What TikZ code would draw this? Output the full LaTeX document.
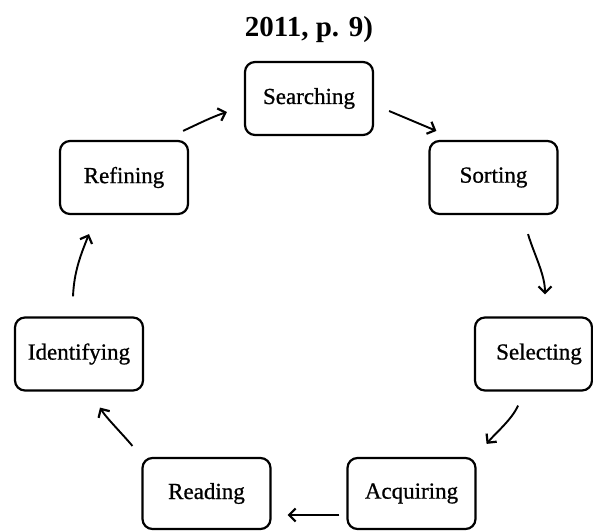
\documentclass[tikz,border=0pt]{standalone}
\usepackage{fontspec}
\setmainfont{Liberation Serif}
\newfontfamily\stagefont{Liberation Serif}[FakeBold=0.8]
\usetikzlibrary{arrows.meta}
\tikzset{
  stage/.style={draw, line width=2.2pt, rounded corners=10pt, fill=white,
    minimum width=128pt, minimum height=73pt, inner sep=0pt,
    font=\stagefont\fontsize{23}{26}\selectfont},
  flow/.style={line width=1.9pt, -{Straight Barb[length=6.5pt,width=13pt,line width=2.2pt]}}
}
\begin{document}
\begin{tikzpicture}[x=1pt,y=-1pt]
  \useasboundingbox (0,0) rectangle (593,530);
  % heading fragment
  \node[anchor=base, font=\fontsize{29}{32}\selectfont\bfseries] (ttl) at (309,36) {2011, p. 9)};
  % cycle stages
  \node[stage] (search) at (309,98.5) {Searching};
  \node[stage] (sort)   at (493.5,177.5) {Sorting};
  \node[stage, minimum width=117pt] (select) at (533.5,354) {\hspace*{11pt}Selecting};
  \node[stage, minimum height=71pt] (acquire) at (411.5,493.5) {Acquiring};
  \node[stage, minimum height=71pt] (read)    at (206.5,493.5) {Reading};
  \node[stage] (ident)  at (79,354) {Identifying};
  \node[stage] (refine) at (124,177.5) {Refining};
  % connectors between stages
  \draw[flow] ([shift={(-6,-9)}]refine.north east) .. controls +(15,-7) and +(-15,5) .. ([shift={(-17,13.5)}]search.west);
  \draw[flow] ([shift={(15,12.5)}]search.east) -- ([shift={(8,-9)}]sort.north west);
  \draw[flow] ([shift={(34.5,19)}]sort.south) .. controls +(6,20) and +(0,-20) .. ([shift={(11.5,-22)}]select.north);
  \draw[flow] ([shift={(-15.5,14)}]select.south) .. controls +(-6,14) and +(8,-10) .. ([shift={(10,-13)}]acquire.north east);
  \draw[flow] ([shift={(-7,21.5)}]acquire.west) -- ([shift={(16,21.5)}]read.east);
  \draw[flow] ([shift={(-9,-11)}]read.north west) .. controls +(-10,-12) and +(6,10) .. ([shift={(21,16)}]ident.south);
  \draw[flow] ([shift={(-6,-20)}]ident.north) .. controls +(1,-25) and +(-8,20) .. ([shift={(-35,19)}]refine.south);
\end{tikzpicture}
\end{document}
